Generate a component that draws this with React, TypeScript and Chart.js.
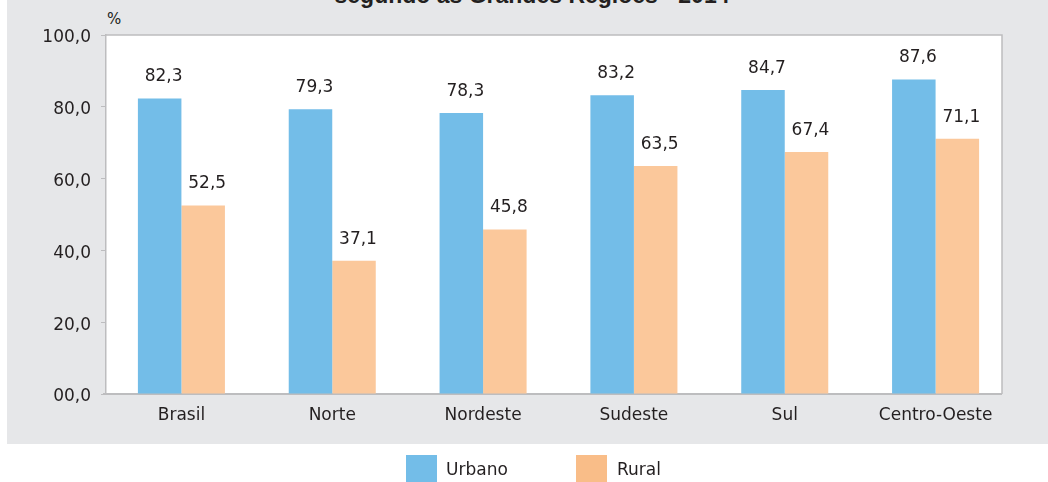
import { useEffect, useRef } from "react";
import { Chart, registerables } from "chart.js";

Chart.register(...registerables);

const categories = ["Brasil", "Norte", "Nordeste", "Sudeste", "Sul", "Centro-Oeste"];
const urbano = [82.3, 79.3, 78.3, 83.2, 84.7, 87.6];
const rural = [52.5, 37.1, 45.8, 63.5, 67.4, 71.1];
const yTickLabels = ["00,0", "20,0", "40,0", "60,0", "80,0", "100,0"];
const seriesNames = ["Urbano", "Rural"];
const titleText = "segundo as Grandes Regiões - 2014";
const unitLabel = "%";

const W = 1048;
const H = 482;
const FONT = "'DejaVu Sans', sans-serif";
const BLUE = "#73bde8";
const PEACH = "#fbc89b";
const PEACH_LEGEND = "#f9bd88";
const FRAME = "#bdbdbf";
const TEXT = "#231f20";
const PANEL = "#e6e7e9";

const fmt = (v: number) => v.toFixed(1).replace(".", ",");

export default function App() {
  const ref = useRef<HTMLCanvasElement>(null);

  useEffect(() => {
    const canvas = ref.current;
    if (!canvas) return;

    const framePlugin = {
      id: "frame",
      beforeDraw(chart: any) {
        const { ctx, chartArea: a } = chart;
        const right = a.right - 9;
        ctx.save();
        ctx.fillStyle = "#ffffff";
        ctx.fillRect(a.left, a.top, right - a.left, a.bottom - a.top);
        ctx.strokeStyle = FRAME;
        ctx.lineWidth = 1.5;
        ctx.beginPath();
        ctx.moveTo(a.left, a.top);
        ctx.lineTo(right, a.top);
        ctx.lineTo(right, a.bottom);
        ctx.stroke();
        ctx.lineWidth = 2;
        ctx.beginPath();
        ctx.moveTo(a.left - 3, a.bottom);
        ctx.lineTo(right, a.bottom);
        ctx.stroke();
        ctx.restore();
      },
      afterDatasetsDraw(chart: any) {
        const { ctx } = chart;
        ctx.save();
        ctx.fillStyle = TEXT;
        ctx.font = `17px ${FONT}`;
        ctx.textAlign = "center";
        ctx.textBaseline = "middle";
        chart.data.datasets.forEach((ds: any, i: number) => {
          const meta = chart.getDatasetMeta(i);
          meta.data.forEach((el: any, j: number) => {
            ctx.fillText(fmt(ds.data[j]), el.x + 4, el.y - 21.5);
          });
        });
        ctx.restore();
      },
    };

    const chart = new Chart(canvas, {
      type: "bar",
      data: {
        labels: categories,
        datasets: [
          { label: seriesNames[0], data: urbano, backgroundColor: BLUE, borderWidth: 0 },
          { label: seriesNames[1], data: rural, backgroundColor: PEACH, borderWidth: 0 },
        ],
      },
      options: {
        responsive: false,
        animation: false,
        devicePixelRatio: 1,
        layout: { padding: { left: 0, top: 35, right: 37, bottom: 0 } },
        datasets: {
          bar: { categoryPercentage: 0.577, barPercentage: 1 },
        },
        plugins: {
          legend: { display: false },
          title: { display: false },
          tooltip: { enabled: false },
        },
        scales: {
          x: {
            grid: { display: true, drawOnChartArea: false, drawTicks: false },
            border: { display: false },
            ticks: {
              color: TEXT,
              font: { family: FONT, size: 17 },
              padding: 11,
              maxRotation: 0,
              autoSkip: false,
            },
            afterFit: (s: any) => {
              s.height = 88;
            },
          },
          y: {
            min: 0,
            max: 100,
            grid: {
              display: true,
              drawOnChartArea: false,
              drawTicks: true,
              tickLength: 5,
              color: FRAME,
            },
            border: { display: true, color: FRAME, width: 1.5 },
            ticks: {
              stepSize: 20,
              color: TEXT,
              font: { family: FONT, size: 17 },
              padding: 10,
              labelOffset: 3,
              callback: (_v: any, i: number) => yTickLabels[i],
            },
            afterFit: (s: any) => {
              s.width = 106;
            },
          },
        },
      },
      plugins: [framePlugin],
    });

    return () => chart.destroy();
  }, []);

  return (
    <div
      style={{
        position: "absolute",
        left: 0,
        top: 0,
        width: W,
        height: H,
        overflow: "hidden",
        background: "#ffffff",
        fontFamily: FONT,
        color: TEXT,
      }}
    >
      <div style={{ position: "absolute", left: 7, top: 0, width: W - 7, height: 444, background: PANEL }} />
      <div
        style={{
          position: "absolute",
          left: 232,
          top: -18,
          width: 600,
          textAlign: "center",
          fontFamily: "'Liberation Sans', Arial, sans-serif",
          fontWeight: "bold",
          fontSize: 23,
          lineHeight: "26px",
          whiteSpace: "nowrap",
        }}
      >
        {titleText}
      </div>
      <div
        style={{
          position: "absolute",
          left: 107,
          top: 9,
          fontSize: 15,
          lineHeight: "20px",
        }}
      >
        {unitLabel}
      </div>
      <canvas ref={ref} width={W} height={H} style={{ position: "absolute", left: 0, top: 0, width: W, height: H }} />
      <div style={{ position: "absolute", left: 406, top: 455, width: 31, height: 27, background: BLUE }} />
      <div style={{ position: "absolute", left: 446, top: 458, fontSize: 17, lineHeight: "22px" }}>{seriesNames[0]}</div>
      <div style={{ position: "absolute", left: 576, top: 455, width: 31, height: 27, background: PEACH_LEGEND }} />
      <div style={{ position: "absolute", left: 617, top: 458, fontSize: 17, lineHeight: "22px" }}>{seriesNames[1]}</div>
    </div>
  );
}
